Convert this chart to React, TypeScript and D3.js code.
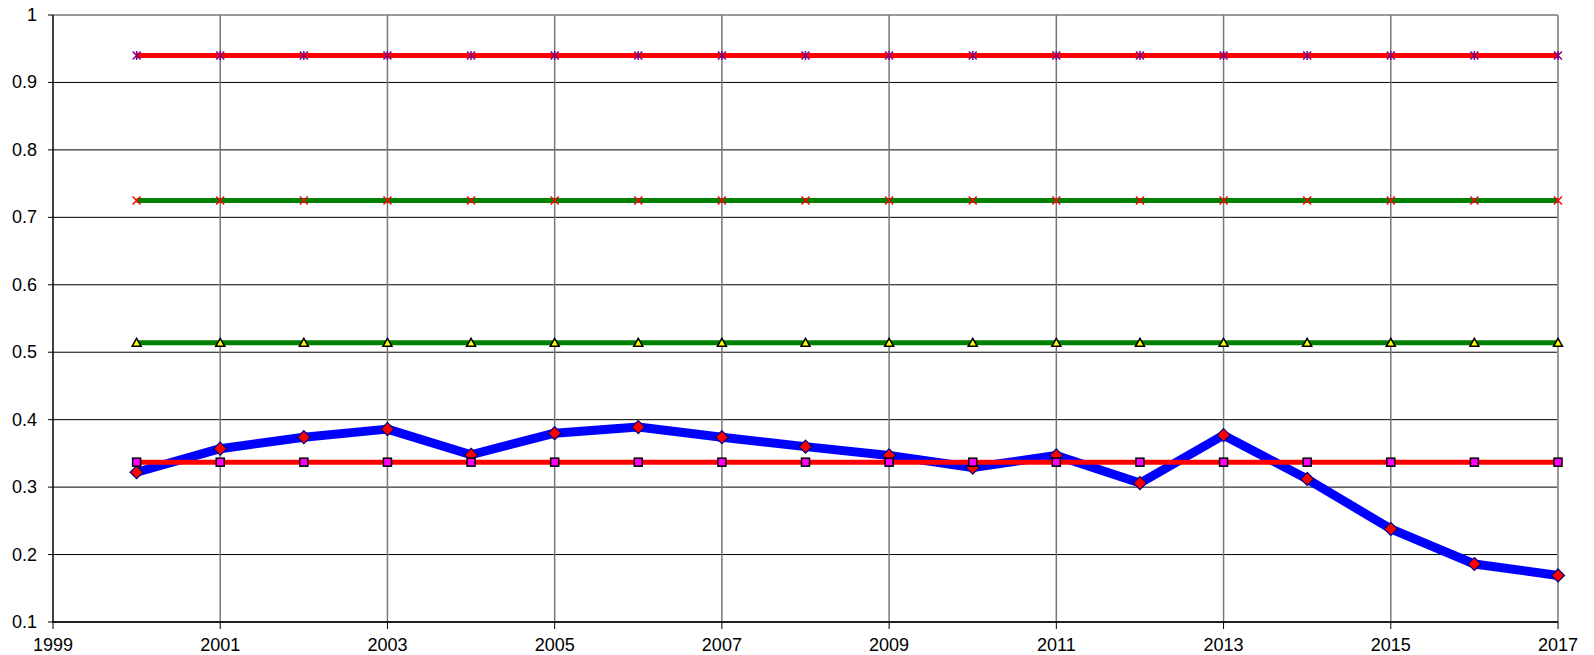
import React from "react";
import * as d3 from "d3";

const years = [2000, 2001, 2002, 2003, 2004, 2005, 2006, 2007, 2008, 2009, 2010, 2011, 2012, 2013, 2014, 2015, 2016, 2017];
const blueValues = [0.322, 0.357, 0.374, 0.386, 0.348, 0.380, 0.389, 0.374, 0.360, 0.347, 0.329, 0.347, 0.306, 0.377, 0.312, 0.238, 0.186, 0.169];
const redLowValues = years.map(() => 0.337);
const greenLowValues = years.map(() => 0.514);
const greenHighValues = years.map(() => 0.725);
const redHighValues = years.map(() => 0.94);
const yTicks = [0.1, 0.2, 0.3, 0.4, 0.5, 0.6, 0.7, 0.8, 0.9, 1];
const xTicks = [1999, 2001, 2003, 2005, 2007, 2009, 2011, 2013, 2015, 2017];

const W = 1594, H = 655;
const L = 53, R = 1558, T = 15, B = 622;

export default function App() {
  const x = d3.scaleLinear().domain([1999, 2017]).range([L, R]);
  const y = d3.scaleLinear().domain([0.1, 1]).range([B, T]);
  const line = (vals: number[]) =>
    d3.line<number>().x((_, i) => x(years[i])).y((v) => y(v))(vals) || "";

  const font = "'Liberation Sans', Arial, sans-serif";

  const diamond = (cx: number, cy: number, k: number) => {
    const s = 6.5;
    return <path key={k} d={`M${cx},${cy - s}L${cx + s},${cy}L${cx},${cy + s}L${cx - s},${cy}Z`} fill="#ff0000" stroke="#000080" strokeWidth={1.2} />;
  };
  const square = (cx: number, cy: number, k: number) => (
    <rect key={k} x={cx - 4} y={cy - 4} width={8} height={8} fill="#ff00ff" stroke="#000" strokeWidth={1.5} />
  );
  const triangle = (cx: number, cy: number, k: number) => (
    <path key={k} d={`M${cx},${cy - 4.5}L${cx + 4.5},${cy + 3.5}L${cx - 4.5},${cy + 3.5}Z`} fill="#ffff00" stroke="#000" strokeWidth={1.5} />
  );
  const xMark = (cx: number, cy: number, k: number) => (
    <path key={k} d={`M${cx - 4},${cy - 4}L${cx + 4},${cy + 4}M${cx - 4},${cy + 4}L${cx + 4},${cy - 4}`} stroke="#ff0000" strokeWidth={1.5} />
  );
  const star = (cx: number, cy: number, k: number) => (
    <path key={k} d={`M${cx - 4},${cy - 4}L${cx + 4},${cy + 4}M${cx - 4},${cy + 4}L${cx + 4},${cy - 4}M${cx},${cy - 4.5}L${cx},${cy + 4.5}`} stroke="#800080" strokeWidth={1.5} />
  );

  const series = [
    { vals: blueValues, color: "#0000ff", width: 9, marker: diamond },
    { vals: redLowValues, color: "#ff0000", width: 5, marker: square },
    { vals: greenLowValues, color: "#008000", width: 5, marker: triangle },
    { vals: greenHighValues, color: "#008000", width: 5, marker: xMark },
    { vals: redHighValues, color: "#ff0000", width: 5, marker: star },
  ];

  return (
    <svg width={W} height={H} style={{ position: "absolute", left: 0, top: 0, background: "#fff" }}>
      {/* horizontal gridlines */}
      {yTicks.map((t) => (
        <line key={"hg" + t} x1={L} x2={R} y1={y(t)} y2={y(t)} stroke={t === 1 ? "#999" : "#000"} strokeWidth={t === 1 ? 2 : 1} />
      ))}
      {/* vertical gridlines */}
      {xTicks.filter((t) => t !== 1999).map((t) => (
        <line key={"vg" + t} x1={x(t)} x2={x(t)} y1={T} y2={B} stroke={t === 2017 ? "#999" : "#777"} strokeWidth={t === 2017 ? 2 : 1.5} />
      ))}
      {/* axes */}
      <line x1={L} x2={L} y1={T} y2={B + 0.5} stroke="#000" strokeWidth={1.5} />
      <line x1={L} x2={R} y1={B} y2={B} stroke="#000" strokeWidth={1.5} />
      {yTicks.map((t) => (
        <line key={"yt" + t} x1={L - 5} x2={L} y1={y(t)} y2={y(t)} stroke="#000" strokeWidth={1} />
      ))}
      {xTicks.map((t) => (
        <line key={"xt" + t} x1={x(t)} x2={x(t)} y1={B} y2={B + 7} stroke="#000" strokeWidth={1} />
      ))}
      {yTicks.map((t) => (
        <text key={"yl" + t} x={37} y={y(t) + 6} textAnchor="end" fontFamily={font} fontSize={18} fill="#000">
          {d3.format("~g")(t)}
        </text>
      ))}
      {xTicks.map((t) => (
        <text key={"xl" + t} x={x(t)} y={651} textAnchor="middle" fontFamily={font} fontSize={18} fill="#000">
          {t}
        </text>
      ))}
      {/* series */}
      {series.map((s, si) => (
        <g key={"s" + si}>
          <path d={line(s.vals)} fill="none" stroke={s.color} strokeWidth={s.width} strokeLinejoin="round" />
          {s.vals.map((v, i) => s.marker(x(years[i]), y(v), i))}
        </g>
      ))}
    </svg>
  );
}
